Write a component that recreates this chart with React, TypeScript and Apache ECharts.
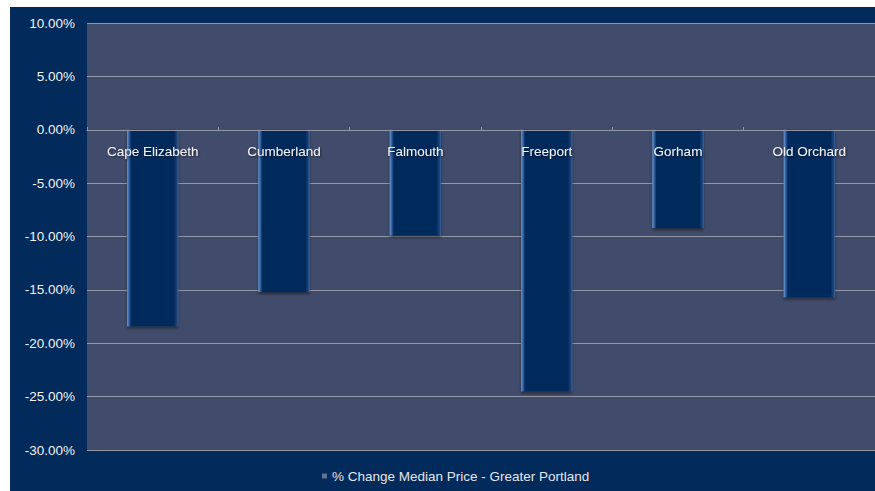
import React, { useEffect, useRef } from "react";
import * as echarts from "echarts";

const categories = ["Cape Elizabeth", "Cumberland", "Falmouth", "Freeport", "Gorham", "Old Orchard"];
const changeValues = [-18.4, -15.2, -9.9, -24.5, -9.2, -15.7];
const seriesName = "% Change Median Price - Greater Portland";
const yMin = -30;
const yMax = 10;
const yStep = 5;

export default function App() {
  const ref = useRef<HTMLDivElement>(null);
  useEffect(() => {
    if (!ref.current) return;
    const chart = echarts.init(ref.current, undefined, { renderer: "svg" });
    const font = "Arial, 'Liberation Sans', sans-serif";
    chart.setOption({
      animation: false,
      backgroundColor: "#ffffff",
      graphic: [
        {
          type: "rect",
          z: -10,
          silent: true,
          shape: { x: 10, y: 7, width: 865, height: 484 },
          style: { fill: "#022a5a" },
        },
      ],
      grid: {
        left: 87,
        top: 23,
        right: 0,
        bottom: 41,
        show: true,
        backgroundColor: "#414c6c",
        borderWidth: 0,
        containLabel: false,
      },
      legend: {
        data: [{ name: seriesName, itemStyle: { color: "#5f7394" } }],
        left: 322,
        top: 469,
        padding: 0,
        itemWidth: 5,
        itemHeight: 5,
        icon: "rect",
        textStyle: { color: "#e3e6ec", fontSize: 13.5, fontFamily: font },
      },
      xAxis: {
        type: "category",
        data: categories,
        position: "bottom",
        offset: -320,
        z: 10,
        axisLine: { show: true, onZero: false, lineStyle: { color: "#9497a3", width: 1 } },
        axisTick: { show: true, inside: true, length: 3, lineStyle: { color: "#9497a3" } },
        axisLabel: {
          color: "#f2f2f2",
          fontSize: 13.5,
          fontFamily: font,
          margin: 14,
          textShadowColor: "rgba(0,0,0,0.6)",
          textShadowBlur: 2,
          textShadowOffsetX: 1,
          textShadowOffsetY: 1,
        },
        splitLine: { show: false },
      },
      yAxis: {
        type: "value",
        min: yMin,
        max: yMax,
        interval: yStep,
        axisLine: { show: false },
        axisTick: { show: false },
        axisLabel: {
          color: "#f2f2f2",
          fontSize: 13.5,
          fontFamily: font,
          margin: 12,
          formatter: (v: number) => v.toFixed(2) + "%",
        },
        splitLine: { show: true, lineStyle: { color: "#9497a3", width: 1 } },
      },
      series: [
        {
          name: seriesName,
          type: "bar",
          z: 2,
          data: changeValues,
          barWidth: "39%",
          itemStyle: {
            color: new echarts.graphic.LinearGradient(0, 0, 1, 0, [
              { offset: 0, color: "#6a9ad6" },
              { offset: 0.04, color: "#2f5f9e" },
              { offset: 0.08, color: "#042b5c" },
              { offset: 0.92, color: "#042b5c" },
              { offset: 0.97, color: "#1a4278" },
              { offset: 1, color: "#3a68a2" },
            ]),
            shadowColor: "rgba(0,0,0,0.45)",
            shadowBlur: 3,
            shadowOffsetY: 2,
          },
        },
      ],
    });
    return () => chart.dispose();
  }, []);
  return (
    <div
      ref={ref}
      style={{ position: "fixed", left: 0, top: 0, width: 875, height: 491 }}
    />
  );
}
